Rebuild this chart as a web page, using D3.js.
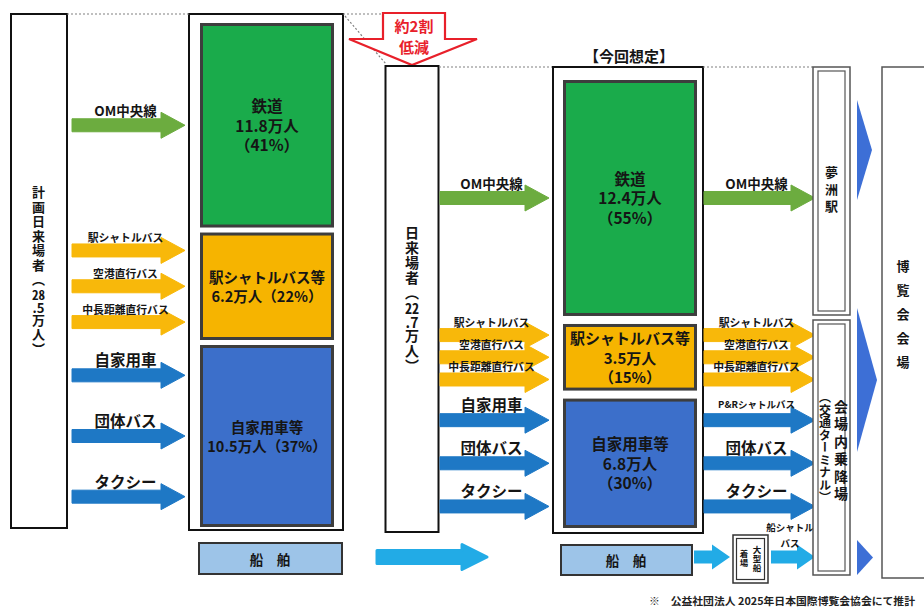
<!DOCTYPE html>
<html lang="ja">
<head>
<meta charset="UTF-8" />
<title>来場者の交通手段別内訳</title>
<script src="https://cdn.jsdelivr.net/npm/d3@7"></script>
<style>
  body { margin: 0; background: #fff; }
  text { font-family: "Noto Sans CJK JP", "Noto Sans CJK SC", sans-serif; font-weight: bold; fill: #151515; }
  .vcol {
    font-family: "Noto Sans CJK JP", sans-serif; font-weight: bold; color: #151515;
    writing-mode: vertical-rl; text-orientation: mixed; white-space: nowrap;
    width: 30px; line-height: 30px; margin: 0;
  }
  .vcol .tcy { text-combine-upright: all; }
  .seg {
    font-family: "Noto Sans CJK JP", sans-serif; font-weight: bold; color: #151515;
    display: flex; align-items: center; justify-content: center; height: 100%;
  }
  .seg div { text-align: center; white-space: pre; line-height: 19.5px; }
</style>
</head>
<body>
<script>
var width = 924, height = 608;

// 交通手段別 来場者数（万人）と分担率（%）
var modes = ["鉄道", "駅シャトルバス等", "自家用車等"];
var planTotal = 28.5;
var planValues = [11.8, 6.2, 10.5];
var planShares = [41, 22, 37];
var nowTotal = 22.7;
var nowValues = [12.4, 3.5, 6.8];
var nowShares = [55, 15, 30];
var reductionText = ["約2割", "低減"];

// 矢印のラベル
var planRoutes = [["OM中央線"], ["駅シャトルバス", "空港直行バス", "中長距離直行バス"], ["自家用車", "団体バス", "タクシー"]];
var nowRoutes = [["OM中央線"], ["駅シャトルバス", "空港直行バス", "中長距離直行バス"], ["自家用車", "団体バス", "タクシー"]];
var siteRoutes = [["OM中央線"], ["駅シャトルバス", "空港直行バス", "中長距離直行バス"], ["P&Rシャトルバス", "団体バス", "タクシー"]];

var segColors = ["#1aab4b", "#f6b400", "#3c6fca"];
var arrowColors = ["#6cac3f", "#f8b80a", "#1e78c5"];
var shipColor = "#22abe6";

var svg = d3.select("body").append("svg").attr("width", width).attr("height", height);

function stack(values, top, bottom, gap) {
  var y = d3.scaleLinear().domain([0, d3.sum(values)]).range([top, bottom - gap * (values.length - 1)]);
  var cum = 0;
  return values.map(function(v, i) {
    var s = { i: i, y0: y(cum) + i * gap, y1: y(cum + v) + i * gap };
    cum += v;
    return s;
  });
}

function rows(segs, routes) {
  var out = [];
  segs.forEach(function(s, i) {
    var p = d3.scalePoint().domain(routes[i]).range([s.y0, s.y1]).padding(0.5);
    routes[i].forEach(function(r) { out.push({ label: r, y: p(r), g: i }); });
  });
  return out;
}

function arrowPath(x0, x1, y, shaft, head, hl) {
  var s = shaft / 2, h = head / 2, xb = x1 - hl;
  return d3.line()([[x0, y - s], [xb, y - s], [xb, y - h], [x1, y], [xb, y + h], [xb, y + s], [x0, y + s]]) + "Z";
}

function box(x, y, w, h, stroke, sw, fill) {
  return svg.append("rect").attr("x", x).attr("y", y).attr("width", w).attr("height", h)
    .attr("fill", fill || "#fff").attr("stroke", stroke).attr("stroke-width", sw);
}

function label(x, y, s, size, color) {
  return svg.append("text").attr("x", x).attr("y", y).attr("text-anchor", "middle")
    .attr("dominant-baseline", "central").style("font-size", size + "px")
    .style("fill", color || "#151515").text(s);
}

function vlabel(x, y, s, size, spacing) {
  return svg.append("text").attr("x", x).attr("y", y).attr("text-anchor", "middle")
    .style("writing-mode", "vertical-rl").style("font-size", size + "px")
    .style("letter-spacing", (spacing || 0) + "px").text(s);
}

// 縦書きの人数：数字は縦中横
function countColumn(x, top, head, total, size, spacing) {
  var num = String(total).split(".");
  var fo = svg.append("foreignObject").attr("x", x - 15).attr("y", top).attr("width", 30).attr("height", 220);
  var div = fo.append("xhtml:div").attr("class", "vcol")
    .style("font-size", size + "px").style("letter-spacing", spacing + "px");
  div.append("xhtml:span").text(head + "（");
  div.append("xhtml:span").attr("class", "tcy").text(num[0]);
  div.append("xhtml:span").attr("class", "tcy").text("." + num[1]);
  div.append("xhtml:span").text("万人）");
}

function routeSize(r, g) {
  if (g === 0) return 13.5;
  if (g === 2 && r.length <= 4) return 15.5;
  return r.length >= 9 ? 9.5 : 10.8;
}
var labelOffset = [-15, -13, -16];

function drawArrows(list, x0, x1) {
  list.forEach(function(d) {
    svg.append("path").attr("d", arrowPath(x0, x1, d.y, 13, 26, 24))
      .attr("fill", arrowColors[d.g]).attr("stroke", arrowColors[d.g])
      .attr("stroke-width", 1).attr("stroke-linejoin", "round");
  });
  list.forEach(function(d) {
    label((x0 + x1) / 2 - 3, d.y + labelOffset[d.g], d.label, routeSize(d.label, d.g));
  });
}

// 区分ごとの箱と、その中の複数行ラベル（一つのテキストにまとめる）
function drawStack(segs, x, w, lines, sizes) {
  segs.forEach(function(s) {
    box(x + 1.5, s.y0 + 1.5, w - 3, s.y1 - s.y0 - 3, "#3d3d3d", 3, segColors[s.i]);
    svg.append("foreignObject").attr("x", x).attr("y", s.y0)
      .attr("width", w).attr("height", s.y1 - s.y0)
      .append("xhtml:div").attr("class", "seg")
      .append("xhtml:div").style("font-size", sizes[s.i] + "px")
      .text(lines[s.i].join("\n"));
  });
}

var dotted = function(x1, y1, x2, y2) {
  svg.append("line").attr("x1", x1).attr("y1", y1).attr("x2", x2).attr("y2", y2)
    .attr("stroke", "#808080").attr("stroke-width", 1.2).attr("stroke-dasharray", "2,2");
};

// ---- 計画（左） ----
box(11, 14, 56, 514, "#111", 2);
countColumn(38, 186, "計画日来場者", planTotal, 13, 1.5);

box(189, 14, 154, 516, "#111", 2);
var planSegs = stack(planValues, 23, 527, 5);
var planLines = planValues.map(function(v, i) {
  return i === 0 ? [modes[i], v + "万人", "（" + planShares[i] + "%）"]
                 : [modes[i], v + "万人（" + planShares[i] + "%）"];
});
drawStack(planSegs, 200, 134, planLines, [15.5, 14.5, 14.5]);
drawArrows(rows(planSegs, planRoutes), 72, 185);

box(199, 543, 143, 31, "#333", 2, "#9dc4e8");
label(270, 558.5, "船　舶", 13.5);

dotted(67, 14, 189, 14);

// ---- 約2割低減 ----
var cx = 412;
dotted(343, 14, 383, 14);
dotted(345, 16, 386, 64);
svg.append("path")
  .attr("d", d3.line()([[383, 13], [445, 13], [445, 39], [477, 39], [cx, 65], [349, 39], [383, 39]]) + "Z")
  .attr("fill", "#fff").attr("stroke", "#e8202a").attr("stroke-width", 2.2).attr("stroke-linejoin", "miter");
label(cx + 2, 25, reductionText[0], 15, "#e8202a");
label(cx + 2, 46, reductionText[1], 15, "#e8202a");

// ---- 今回想定（中央） ----
box(385.5, 66, 53, 466, "#111", 2);
countColumn(412, 226, "日来場者", nowTotal, 14, 1);

dotted(439, 67, 553, 67);
label(629, 55, "【今回想定】", 15);
box(553, 67, 150, 466, "#111", 2);
var nowSegs = stack(nowValues, 80, 528, 8);
var nowLines = nowValues.map(function(v, i) {
  return [modes[i], v + "万人", "（" + nowShares[i] + "%）"];
});
drawStack(nowSegs, 563, 134, nowLines, [15.5, 15, 15.5]);
drawArrows(rows(nowSegs, nowRoutes), 440, 549);

box(561, 545, 131, 30, "#333", 2, "#9dc4e8");
label(626, 560, "船　舶", 13.5);
svg.append("path").attr("d", arrowPath(377, 487, 557, 13, 25, 25))
  .attr("fill", shipColor).attr("stroke", shipColor).attr("stroke-width", 3).attr("stroke-linejoin", "round");

// ---- 会場側（右） ----
dotted(703, 67, 813, 67);
drawArrows(rows(nowSegs, siteRoutes), 704, 815);

// 大型船着場と船シャトルバス
svg.append("path").attr("d", arrowPath(694, 730, 557, 13, 25, 18)).attr("fill", shipColor);
box(733, 535, 35, 48, "#333", 1.5);
box(736.5, 538.5, 28, 41, "#333", 1.2);
vlabel(757, 559, "大型船", 8.5, 0.5);
vlabel(744, 559, "着場", 8.5, 0.5);
svg.append("path").attr("d", arrowPath(771, 815, 557, 13, 25, 18)).attr("fill", shipColor);
label(790, 527, "船シャトル", 9.5);
label(790, 543, "バス", 9.5);

// 夢洲駅・会場内乗降場
box(813, 67, 37, 248, "#555", 1.5);
box(818, 71, 27, 240, "#555", 1.2);
vlabel(831.5, 191, "夢洲駅", 13, 4);
box(813, 320, 37, 255, "#555", 1.5);
box(818, 324, 27, 247, "#555", 1.2);
vlabel(841, 452, "会場内乗降場", 14, 3.5);
vlabel(825, 448, "（交通ターミナル）", 12, 0.5);

// 会場へ向かう三角
var tri = [[100, 200, 872], [308, 452, 877], [540, 575, 873]];
tri.forEach(function(t) {
  svg.append("path").attr("d", d3.line()([[857, t[0]], [t[2], (t[0] + t[1]) / 2], [857, t[1]]]) + "Z")
    .attr("fill", "#3d6fd6");
});

box(882, 67, 60, 511, "#555", 1.5);
vlabel(903, 320, "博覧会会場", 13, 11);

// 出典
svg.append("text").attr("x", 649).attr("y", 600).attr("dominant-baseline", "central")
  .attr("textLength", 266).attr("lengthAdjust", "spacingAndGlyphs")
  .style("font-size", "10.5px").style("fill", "#222")
  .text("※　公益社団法人 2025年日本国際博覧会協会にて推計");
</script>
</body>
</html>
